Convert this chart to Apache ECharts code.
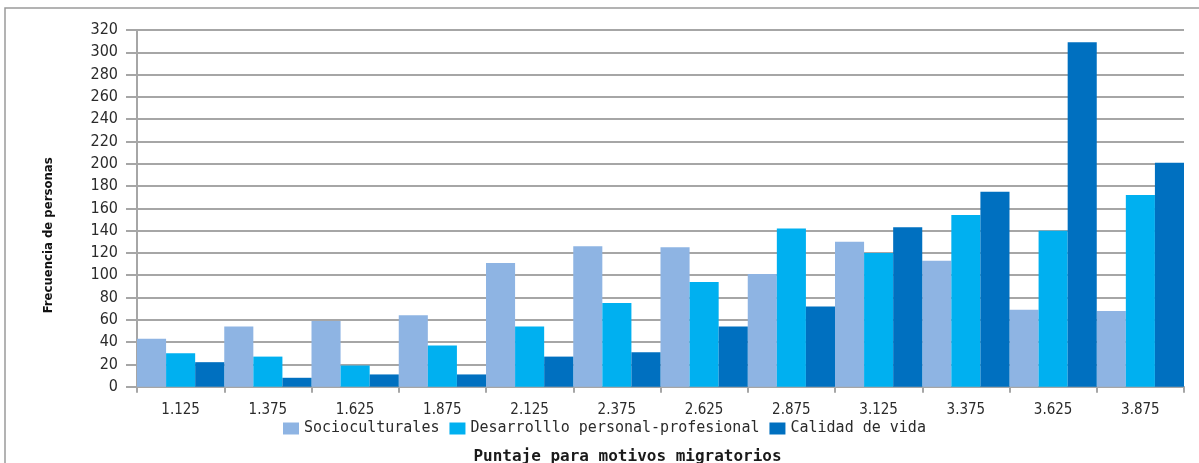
<!DOCTYPE html>
<html>
<head>
<meta charset="utf-8">
<script src="https://cdn.jsdelivr.net/npm/echarts@6/dist/echarts.min.js"></script>
<style>
  html, body { margin: 0; padding: 0; background: #fff; }
  #chart { width: 1199px; height: 463px; }
</style>
</head>
<body>
<div id="chart"></div>
<script>
// Score bins for migratory motives
const categories = ['1.125', '1.375', '1.625', '1.875', '2.125', '2.375', '2.625', '2.875', '3.125', '3.375', '3.625', '3.875'];

// Frequency of people per score bin, one array per motive group
const socioculturales = [43, 54, 59, 64, 111, 126, 125, 101, 130, 113, 69, 68];
const desarrollo = [30, 27, 19, 37, 54, 75, 94, 142, 120, 154, 140, 172];
const calidadVida = [22, 8, 11, 11, 27, 31, 54, 72, 143, 175, 309, 201];

const seriesNames = ['Socioculturales', 'Desarrolllo personal-profesional', 'Calidad de vida'];
const seriesColors = ['#8EB4E3', '#00B0F0', '#0070C0'];

const cond = '"DejaVu Sans Condensed", sans-serif';
const mono = '"DejaVu Sans Mono", "Liberation Mono", monospace';
const textColor = '#2b2b2b';
const gridColor = '#a6a6a6';

const chart = echarts.init(document.getElementById('chart'));

chart.setOption({
  animation: false,
  backgroundColor: '#ffffff',
  graphic: [{
    type: 'rect',
    shape: { x: 5, y: 8, width: 1220, height: 480 },
    style: { fill: 'none', stroke: '#9a9a9a', lineWidth: 1.5 },
    silent: true,
    z: -1
  }],
  grid: { left: 137, right: 15, top: 30, bottom: 76.3, outerBoundsMode: 'none', containLabel: false },
  legend: {
    left: 283,
    top: 421,
    padding: 0,
    itemWidth: 16,
    itemHeight: 12,
    itemGap: 10,
    icon: 'rect',
    textStyle: { fontFamily: mono, fontSize: 15, color: textColor },
    data: seriesNames
  },
  xAxis: {
    type: 'category',
    data: categories,
    name: 'Puntaje para motivos migratorios',
    nameLocation: 'middle',
    nameGap: 62,
    nameTextStyle: {
      fontFamily: mono, fontSize: 16, fontWeight: 'bold', color: '#1a1a1a',
      padding: [0, 66, 0, 0]
    },
    axisLine: { lineStyle: { color: gridColor, width: 2 } },
    axisTick: { show: true, length: 6, lineStyle: { color: gridColor, width: 2 } },
    axisLabel: { margin: 16, fontFamily: cond, fontSize: 15, color: textColor }
  },
  yAxis: {
    type: 'value',
    min: 0,
    max: 320,
    interval: 20,
    name: 'Frecuencia de personas',
    nameLocation: 'middle',
    nameGap: 82,
    nameRotate: 90,
    nameTextStyle: {
      fontFamily: cond, fontSize: 13, fontWeight: 'bold', color: '#111',
      padding: [0, 54, 0, 0]
    },
    axisLine: { show: true, lineStyle: { color: gridColor, width: 2 } },
    axisTick: { show: true, length: 11, lineStyle: { color: gridColor, width: 2 } },
    splitLine: { lineStyle: { color: gridColor, width: 2 } },
    axisLabel: { margin: 19, fontFamily: cond, fontSize: 16, color: textColor }
  },
  series: [socioculturales, desarrollo, calidadVida].map((values, i) => ({
    type: 'bar',
    name: seriesNames[i],
    data: values,
    barGap: '0%',
    barCategoryGap: '0%',
    itemStyle: { color: seriesColors[i] }
  }))
});
</script>
</body>
</html>
